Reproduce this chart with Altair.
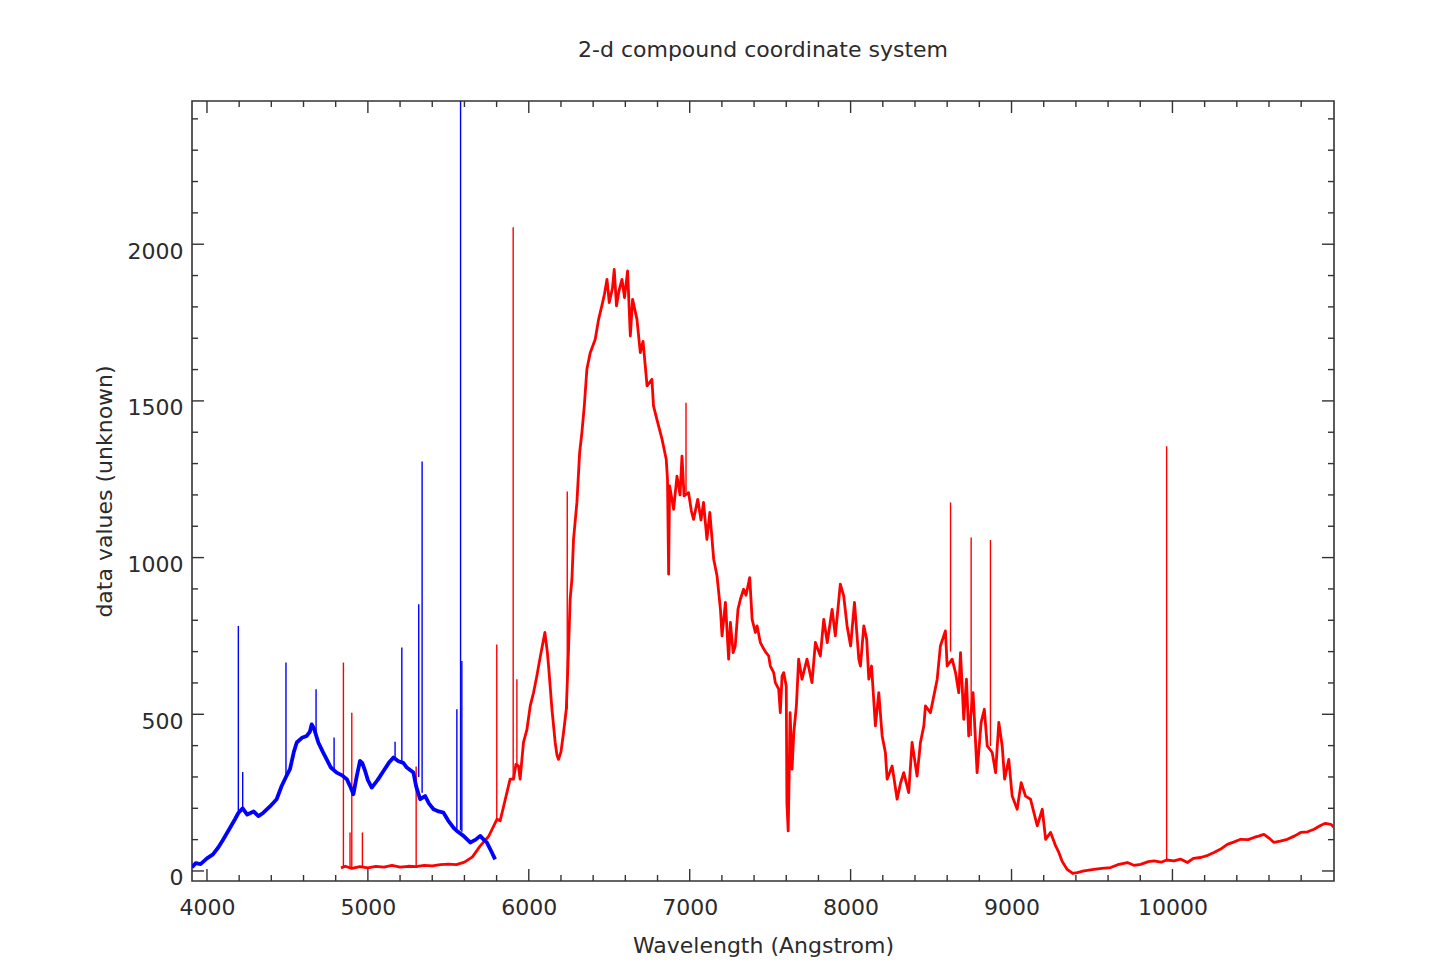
import altair as alt
import pandas as pd

# ---------------- data ----------------
blue_wl = [3907, 3930, 3960, 4000, 4037, 4070, 4100, 4140, 4174, 4195, 4222, 4250, 4290, 4320,
           4349, 4390, 4433, 4464, 4491, 4516, 4540, 4558, 4590, 4620, 4640, 4651, 4665, 4692,
           4720, 4744, 4770, 4806, 4840, 4869, 4890, 4910, 4930, 4951, 4965, 4983, 5000, 5024,
           5060, 5097, 5130, 5159, 5190, 5220, 5242, 5283, 5300, 5325, 5356, 5380, 5408, 5440,
           5470, 5500, 5532, 5560, 5594, 5636, 5670, 5698, 5720, 5739, 5760, 5791]
blue_flux = [12, 25, 22, 40, 53, 75, 100, 135, 165, 185, 200, 180, 190, 175,
             185, 205, 229, 271, 300, 325, 380, 410, 425, 431, 445, 468, 455, 410,
             380, 356, 330, 314, 305, 293, 270, 245, 300, 351, 345, 319, 290, 266,
             290, 319, 345, 362, 350, 345, 330, 314, 270, 229, 239, 215, 197, 190,
             186, 160, 138, 125, 112, 91, 100, 112, 100, 91, 70, 37]

blue_spike_wl = [4195, 4222, 4491, 4678, 4790, 5169, 5211, 5316, 5337, 5553, 5576, 5584]
blue_spike_base = [185, 200, 300, 440, 320, 360, 350, 300, 250, 135, 130, 125]
blue_spike_peak = [782, 316, 665, 580, 426, 412, 713, 851, 1307, 516, 2600, 670]

red_wl = [4833, 4860, 4900, 4950, 5000, 5050, 5100, 5150, 5200, 5250, 5300, 5350, 5400, 5450,
          5500, 5550, 5600, 5650, 5698, 5750, 5802, 5822, 5850, 5884, 5905, 5920, 5936, 5946,
          5967, 5988, 6009, 6030, 6050, 6070, 6092, 6100, 6115, 6123, 6144, 6164, 6175, 6185,
          6200, 6216, 6233, 6247, 6257, 6268, 6278, 6299, 6316, 6330, 6345, 6361, 6382, 6413,
          6434, 6454, 6470, 6486, 6500, 6520, 6531, 6545, 6560, 6579, 6595, 6614, 6631, 6645,
          6672, 6693, 6710, 6724, 6735, 6765, 6775, 6796, 6828, 6854, 6862, 6869, 6875, 6900,
          6921, 6940, 6952, 6965, 6993, 7010, 7024, 7050, 7070, 7086, 7107, 7125, 7149, 7170,
          7191, 7201, 7222, 7242, 7253, 7270, 7283, 7300, 7315, 7335, 7350, 7373, 7388, 7408,
          7419, 7439, 7450, 7470, 7491, 7501, 7522, 7532, 7553, 7563, 7574, 7584, 7600, 7604,
          7612, 7618, 7624, 7636, 7647, 7663, 7677, 7698, 7729, 7760, 7781, 7812, 7833, 7855,
          7885, 7905, 7936, 7957, 7978, 8000, 8024, 8051, 8061, 8082, 8100, 8113, 8130, 8154,
          8175, 8196, 8216, 8227, 8258, 8289, 8310, 8330, 8361, 8382, 8413, 8434, 8455, 8465,
          8496, 8517, 8538, 8558, 8589, 8600, 8631, 8652, 8672, 8683, 8703, 8720, 8734, 8761,
          8786, 8811, 8831, 8849, 8880, 8901, 8921, 8942, 8957, 8983, 9004, 9035, 9060, 9087,
          9118, 9139, 9160, 9191, 9212, 9243, 9274, 9294, 9315, 9346, 9380, 9408, 9450, 9512,
          9560, 9616, 9660, 9720, 9760, 9802, 9850, 9885, 9930, 9964, 10010, 10050, 10093, 10130,
          10175, 10220, 10258, 10300, 10341, 10380, 10424, 10470, 10507, 10540, 10569, 10600, 10631, 10670,
          10714, 10760, 10797, 10840, 10880, 10920, 10950, 10984, 11004]
red_flux = [10, 15, 8, 14, 10, 15, 12, 18, 12, 15, 14, 18, 16, 20,
            22, 20, 28, 45, 80, 110, 165, 160, 220, 293, 293, 340, 335, 293,
            410, 450, 527, 570, 622, 680, 739, 761, 700, 654, 516, 410, 370, 356,
            380, 442, 516, 707, 867, 931, 1058, 1176, 1335, 1399, 1484, 1601, 1654, 1697,
            1761, 1803, 1840, 1888, 1814, 1860, 1920, 1803, 1850, 1888, 1830, 1915, 1707, 1824,
            1761, 1654, 1690, 1611, 1548, 1569, 1484, 1441, 1378, 1314, 1250, 947, 1229, 1154,
            1260, 1200, 1324, 1197, 1207, 1150, 1122, 1186, 1120, 1176, 1058, 1144, 995, 941,
            835, 750, 857, 676, 793, 697, 718, 835, 867, 899, 880, 936, 803, 761,
            782, 729, 718, 700, 686, 654, 633, 601, 580, 505, 622, 633, 590, 218,
            128, 300, 505, 325, 442, 527, 676, 612, 676, 601, 729, 686, 803, 729,
            835, 750, 915, 878, 782, 718, 857, 676, 654, 782, 739, 612, 654, 463,
            569, 431, 378, 293, 335, 229, 280, 314, 250, 410, 303, 410, 463, 527,
            505, 558, 612, 718, 766, 654, 676, 633, 569, 697, 484, 612, 431, 569,
            314, 474, 516, 399, 378, 314, 474, 399, 293, 356, 239, 197, 282, 239,
            229, 186, 144, 197, 101, 123, 80, 59, 30, 5, -8, -5, 0, 5,
            8, 11, 20, 27, 18, 21, 30, 32, 28, 35, 32, 38, 27, 40,
            43, 50, 59, 70, 85, 92, 101, 100, 107, 112, 117, 105, 91, 95,
            101, 112, 123, 125, 133, 145, 152, 149, 140]

red_spike_wl = [4848, 4889, 4900, 4966, 5300, 5801, 5903, 5926, 6239, 6977, 8621, 8749, 8869, 9964]
red_spike_base = [12, 12, 10, 14, 14, 165, 293, 335, 516, 1207, 700, 431, 399, 35]
red_spike_peak = [665, 123, 505, 123, 333, 723, 2054, 612, 1211, 1494, 1176, 1064, 1056, 1355]

x_major = [4000, 5000, 6000, 7000, 8000, 9000, 10000]
x_minor = [4200, 4400, 4600, 4800, 5200, 5400, 5600, 5800, 6200, 6400, 6600, 6800,
           7200, 7400, 7600, 7800, 8200, 8400, 8600, 8800, 9200, 9400, 9600, 9800,
           10200, 10400, 10600, 10800]
y_major = [0, 500, 1000, 1500, 2000]
y_minor = [100, 200, 300, 400, 600, 700, 800, 900, 1100, 1200, 1300, 1400,
           1600, 1700, 1800, 1900, 2100, 2200, 2300, 2400]

# ---------------- styling ----------------
W, H = 1142, 780
FONT = "DejaVu Sans"
TXT = "#2b2b2b"
AX = "#333333"
MAJ, MIN = 12, 6
FS = 22

xs = alt.Scale(domain=[3907, 11004], nice=False, zero=False)
ys = alt.Scale(domain=[-32, 2457], nice=False, zero=False)

x_axis = alt.Axis(title="Wavelength (Angstrom)", values=x_major, format="d", ticks=False,
                  domain=False, grid=False, labelPadding=16, titlePadding=17)
y_axis = alt.Axis(title="data values (unknown)", values=y_major, format="d", ticks=False,
                  domain=False, grid=False, labelPadding=9, labelOffset=7, titlePadding=11)

red_df = pd.DataFrame({"wl": red_wl, "flux": red_flux})
blue_df = pd.DataFrame({"wl": blue_wl, "flux": blue_flux})
red_sp = pd.DataFrame({"wl": red_spike_wl, "base": red_spike_base, "peak": red_spike_peak})
blue_sp = pd.DataFrame({"wl": blue_spike_wl, "base": blue_spike_base, "peak": blue_spike_peak})

X = lambda f: alt.X(f, scale=xs, axis=x_axis)
Y = lambda f: alt.Y(f, scale=ys, axis=y_axis)

red_line = alt.Chart(red_df).mark_line(color="#ff0000", strokeWidth=2.8, clip=True,
                                       strokeJoin="round").encode(x=X("wl:Q"), y=Y("flux:Q"))
red_spikes = alt.Chart(red_sp).mark_rule(color="#ff0000", strokeWidth=1.4, clip=True).encode(
    x=X("wl:Q"), y=Y("base:Q"), y2="peak:Q")
blue_line = alt.Chart(blue_df).mark_line(color="#0000ff", strokeWidth=3.8, clip=True,
                                         strokeJoin="round").encode(x=X("wl:Q"), y=Y("flux:Q"))
blue_spikes = alt.Chart(blue_sp).mark_rule(color="#0000ff", strokeWidth=1.4, clip=True).encode(
    x=X("wl:Q"), y=Y("base:Q"), y2="peak:Q")

def xticks(vals, length):
    d = pd.DataFrame({"t": vals})
    top = alt.Chart(d).mark_rule(color=AX, strokeWidth=1.4).encode(
        x=X("t:Q"), y=alt.value(0), y2=alt.value(length))
    bot = alt.Chart(d).mark_rule(color=AX, strokeWidth=1.4).encode(
        x=X("t:Q"), y=alt.value(H), y2=alt.value(H - length))
    return [top, bot]

def yticks(vals, length):
    d = pd.DataFrame({"t": vals})
    left = alt.Chart(d).mark_rule(color=AX, strokeWidth=1.4).encode(
        y=Y("t:Q"), x=alt.value(0), x2=alt.value(length))
    right = alt.Chart(d).mark_rule(color=AX, strokeWidth=1.4).encode(
        y=Y("t:Q"), x=alt.value(W), x2=alt.value(W - length))
    return [left, right]

ticks = xticks(x_major, MAJ) + xticks(x_minor, MIN) + yticks(y_major, MAJ) + yticks(y_minor, MIN)

chart = alt.layer(red_line, red_spikes, blue_line, blue_spikes, *ticks).properties(
    width=W, height=H,
    title=alt.TitleParams(text="2-d compound coordinate system", font=FONT, fontSize=FS,
                          fontWeight="normal", color=TXT, anchor="middle", offset=38),
    padding={"left": 192, "top": 101, "right": 95, "bottom": 90},
    autosize=alt.AutoSizeParams(type="none"),
    background="white",
).configure_view(
    stroke=AX, strokeWidth=1.6
).configure_axis(
    labelFont=FONT, labelFontSize=FS, labelColor=TXT,
    titleFont=FONT, titleFontSize=FS, titleFontWeight="normal", titleColor=TXT,
)

chart.save("out.html", embed_options={"renderer": "svg", "actions": False})
